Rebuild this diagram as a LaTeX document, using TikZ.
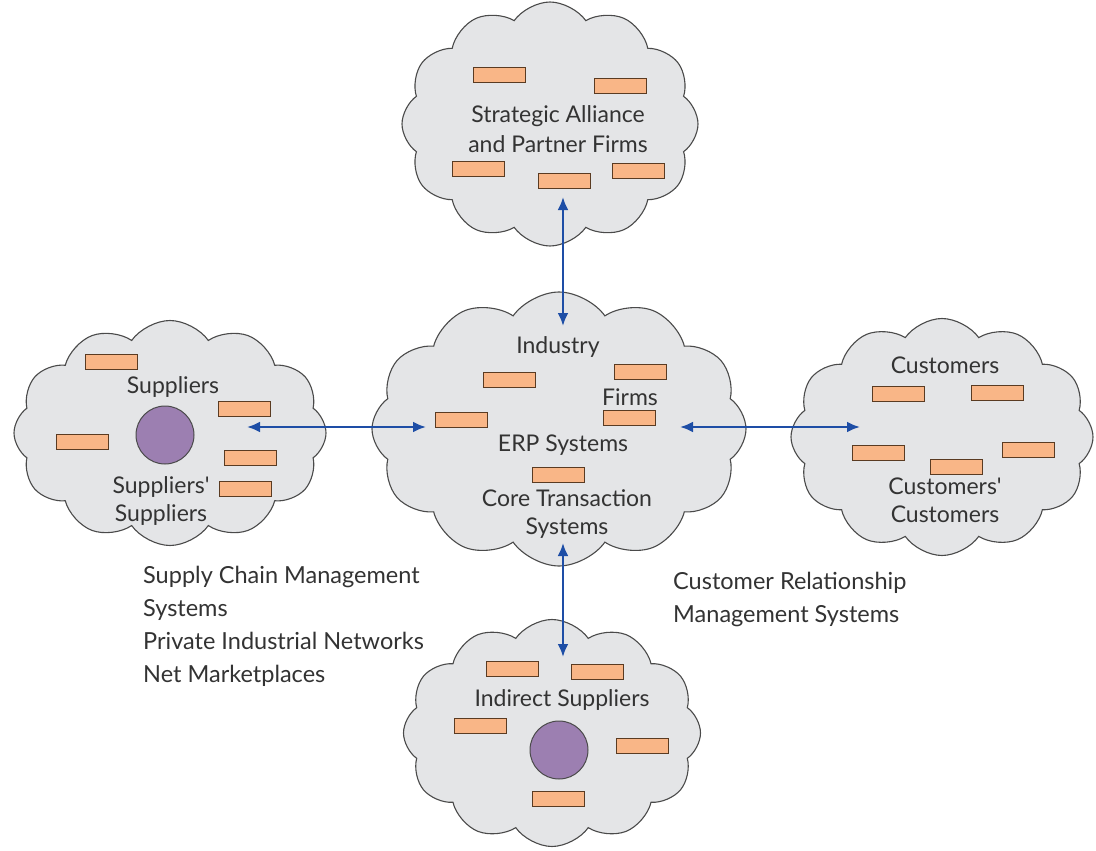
\documentclass[tikz,border=0pt]{standalone}
\usepackage{fontspec}
\setmainfont{Lato}
\usetikzlibrary{shapes.symbols,arrows.meta}
\definecolor{cloudfill}{HTML}{E4E5E7}
\definecolor{cloudline}{HTML}{4A4A4A}
\definecolor{boxfill}{HTML}{F9B687}
\definecolor{boxline}{HTML}{5A3B22}
\definecolor{ballfill}{HTML}{9C7FB1}
\definecolor{arrowblue}{HTML}{1E4EA6}
\definecolor{txt}{HTML}{333333}
\begin{document}
\begin{tikzpicture}[x=1pt,y=-1pt,
  cloudnode/.style={cloud, cloud puffs=12, cloud puff arc=110, draw=cloudline, fill=cloudfill, line width=1.1pt, inner sep=0pt},
  box/.style={rectangle, draw=boxline, fill=boxfill, line width=0.9pt, minimum width=52pt, minimum height=15pt, inner sep=0pt},
  ball/.style={circle, draw=cloudline, fill=ballfill, line width=1pt, minimum size=58pt, inner sep=0pt},
  lbl/.style={text=txt, font=\fontsize{23}{28}\selectfont, inner sep=0pt, align=center},
  side/.style={text=txt, font=\fontsize{23.5}{33}\selectfont, inner sep=0pt, align=left, anchor=north west},
  link/.style={draw=arrowblue, line width=2.4pt, {Latex[length=13pt,width=11pt]}-{Latex[length=13pt,width=11pt]}}]
\useasboundingbox (0,0) rectangle (1096,851);
\fill[white] (0,0) rectangle (1096,851);

% clouds
\node[cloudnode, minimum width=296pt, minimum height=244pt] (ctop) at (550,124) {};
\node[cloudnode, minimum width=374pt, minimum height=274pt] (ccen) at (559,429) {};
\node[cloudnode, minimum width=312pt, minimum height=225pt] (cleft) at (170,433) {};
\node[cloudnode, minimum width=302pt, minimum height=237pt] (cright) at (942,437) {};
\node[cloudnode, minimum width=297pt, minimum height=227pt] (cbot) at (552,733) {};

% top cloud
\node[box] (t1) at (499,75) {};
\node[box] (t2) at (620,86) {};
\node[box] (t3) at (478,169) {};
\node[box] (t4) at (564,181) {};
\node[box] (t5) at (638,171) {};
\node[lbl, font=\fontsize{23}{30}\selectfont] (ttxt) at (558,129) {Strategic Alliance\\and Partner Firms};

% center cloud
\node[box] (m1) at (509,380) {};
\node[box] (m2) at (640,372) {};
\node[box] (m3) at (461,420) {};
\node[box] (m4) at (629,418) {};
\node[box] (m5) at (558,475) {};
\node[lbl] (mind) at (558,347) {Industry};
\node[lbl] (mfirm) at (630,397) {Firms};
\node[lbl] (merp) at (563,445) {ERP Systems};
\node[lbl] (mcore) at (567,514) {Core Transaction\\Systems};

% left cloud
\node[box] (l1) at (111,362) {};
\node[box] (l2) at (244,409) {};
\node[box] (l3) at (82,442) {};
\node[box] (l4) at (250,458) {};
\node[box] (l5) at (245,489) {};
\node[ball] (lball) at (165,435) {};
\node[lbl] (lsup) at (173,387) {Suppliers};
\node[lbl] (lss) at (161,501) {Suppliers\textquotesingle\\Suppliers};

% right cloud
\node[box] (r1) at (898,394) {};
\node[box] (r2) at (997,393) {};
\node[box] (r3) at (878,453) {};
\node[box] (r4) at (956,467) {};
\node[box] (r5) at (1028,450) {};
\node[lbl] (rcus) at (945,365) {Customers};
\node[lbl] (rcc) at (945,500) {Customers\textquotesingle\\Customers};

% bottom cloud
\node[box] (b1) at (512,669) {};
\node[box] (b2) at (597,672) {};
\node[box] (b3) at (480,726) {};
\node[box] (b4) at (642,746) {};
\node[box] (b5) at (558,799) {};
\node[ball] (bball) at (559,750) {};
\node[lbl] (btxt) at (562,700) {Indirect Suppliers};

% side texts
\node[side] (scm) at (143,566) {Supply Chain Management\\Systems\\Private Industrial Networks\\Net Marketplaces};
\node[side] (crm) at (673,572) {Customer Relationship\\Management Systems};

% connectors
\coordinate (topA) at (563,197);
\coordinate (topB) at (563,326);
\coordinate (leftA) at (247,427);
\coordinate (leftB) at (426,427);
\coordinate (rightA) at (680,427);
\coordinate (rightB) at (860,427);
\coordinate (botA) at (563,543);
\coordinate (botB) at (563,657);
\draw[link] (topA) -- (topB);
\draw[link] (leftA) -- (leftB);
\draw[link] (rightA) -- (rightB);
\draw[link] (botA) -- (botB);
\end{tikzpicture}
\end{document}
